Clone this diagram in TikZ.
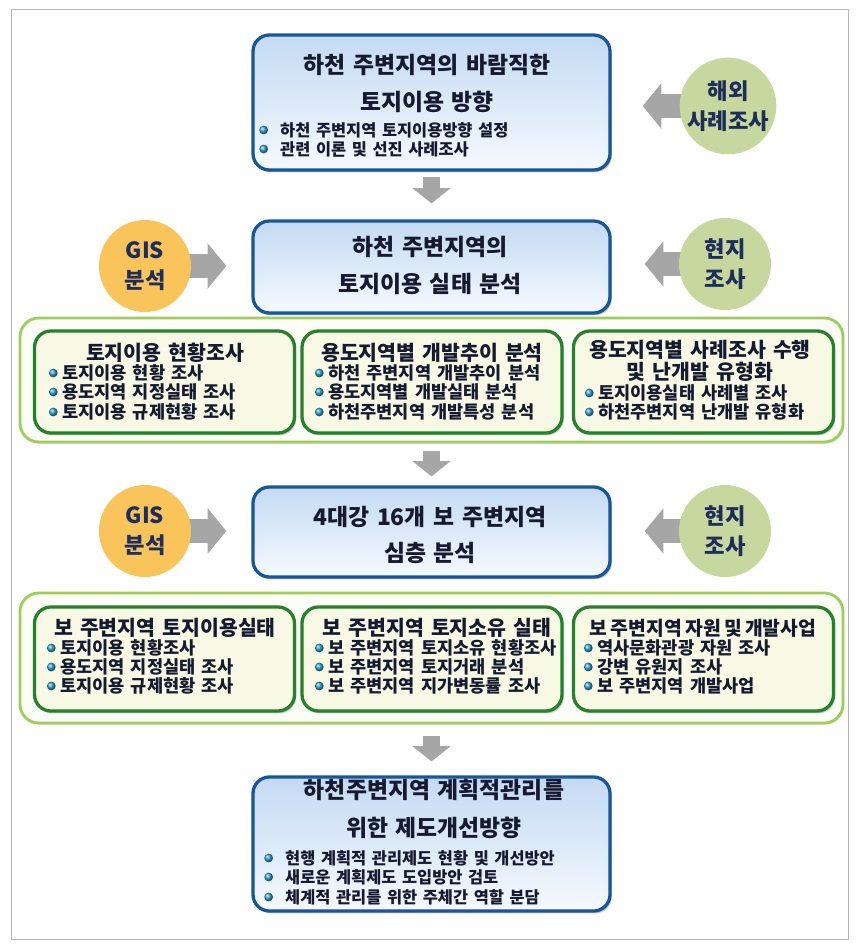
\documentclass[tikz,border=0pt]{standalone}
\usepackage{fontspec}
\setmainfont{Noto Sans CJK KR}[WordSpace=1.5]
\usetikzlibrary{positioning}
\usetikzlibrary{shadows}
\usetikzlibrary{arrows.meta}
\usetikzlibrary{backgrounds}

\definecolor{boxblue}{RGB}{22,86,155}
\definecolor{boxtop}{RGB}{196,218,243}
\definecolor{boxbot}{RGB}{245,249,254}
\definecolor{panelgreen}{RGB}{158,205,90}
\definecolor{panelfill}{RGB}{252,253,246}
\definecolor{taskgreen}{RGB}{38,130,42}
\definecolor{taskfill}{RGB}{247,249,228}
\definecolor{gisorange}{RGB}{249,196,90}
\definecolor{fieldgreen}{RGB}{199,216,158}
\definecolor{arrowgray}{RGB}{166,166,166}
\definecolor{textnavy}{RGB}{22,26,48}
\definecolor{circnavy}{RGB}{30,45,90}
\definecolor{bulletblue}{RGB}{45,160,205}
\definecolor{framegray}{RGB}{180,180,180}

\tikzset{
	stage/.style={draw=boxblue, line width=2.8pt, rounded corners=14pt, top color=boxtop, bottom color=boxbot, minimum width=10.71cm, inner sep=0pt, drop shadow={shadow xshift=1.5pt, shadow yshift=-2pt, opacity=0.45}},
	panel/.style={draw=panelgreen, line width=2.4pt, rounded corners=16pt, fill=panelfill, minimum width=24.69cm, inner sep=0pt, drop shadow={shadow xshift=1pt, shadow yshift=-1.5pt, opacity=0.25}},
	task/.style={draw=taskgreen, line width=2.8pt, rounded corners=14pt, fill=taskfill, minimum width=7.8cm, inner sep=0pt, drop shadow={shadow xshift=1.5pt, shadow yshift=-2pt, opacity=0.4}},
	source/.style={circle, minimum size=2.76cm, inner sep=0pt, align=center, text=circnavy, font=\fontsize{19}{26}\selectfont\bfseries},
	gis/.style={source, fill=gisorange},
	field/.style={source, fill=fieldgreen},
	headline/.style={text=textnavy, font=\fontsize{19.5}{23}\selectfont\bfseries},
	tasktitle/.style={text=textnavy, font=\fontsize{17.5}{20}\selectfont\bfseries},
	% small blue ball in front of each item
	bdot/.style={circle, ball color=bulletblue, minimum size=7.5pt, inner sep=0pt},
	point/.style={anchor=west, inner sep=0pt, text=textnavy, font=\fontsize{14}{16}\selectfont\bfseries, label={[bdot, label distance=10pt]left:{}}},
	subpoint/.style={anchor=west, inner sep=0pt, text=textnavy, font=\fontsize{15}{17}\selectfont\bfseries, label={[bdot, label distance=3.5pt]left:{}}},
	flow/.style={draw=arrowgray, line width=15pt, -{Triangle[length=13pt, width=32pt]}},
	side/.style={draw=arrowgray, line width=20pt, -{Triangle[length=16pt, width=38pt]}},
}

\begin{document}
\begin{tikzpicture}[x=0.03cm, y=-0.03cm]
	\useasboundingbox (0,0) rectangle (861,951);
	\draw[framegray, line width=0.8pt] (11,9) rectangle (848,939);
	
	\node (aim) [stage, minimum height=4.05cm] at (431.5,102.5) {};
	\node (status) [stage, minimum height=2.76cm] at (431.5,267) {};
	\node (survey1) [panel, minimum height=3.72cm] at (431.5,380) {};
	\node (weir) [stage, minimum height=2.7cm] at (431.5,532) {};
	\node (survey2) [panel, minimum height=3.9cm] at (431.5,658) {};
	\node (policy) [stage, minimum height=4.02cm] at (431.5,844) {};
	
	\node (landuse) [task, minimum height=3.06cm] at (164.5,382) {};
	\node (trend) [task, minimum height=3.06cm] at (432,382) {};
	\node (cases) [task, minimum height=3.06cm] at (703.5,382) {};
	\node (weiruse) [task, minimum height=3.12cm] at (164.5,659) {};
	\node (owner) [task, minimum height=3.12cm] at (432,659) {};
	\node (resource) [task, minimum height=3.12cm] at (703.5,659) {};
	
	\node (abroad) [field] at (728,106) {해외\\사례조사};
	\node (gis1) [gis] at (145,266) {GIS\\분석};
	\node (local1) [field] at (725,264) {현지\\조사};
	\node (gis2) [gis] at (145,531) {GIS\\분석};
	\node (local2) [field] at (725,531) {현지\\조사};
	
	\node (aimt1) [headline] at (427,65) {하천 주변지역의 바람직한};
	\node (aimt2) [headline] at (427,102) {토지이용 방향};
	\node (aimp1) [point] at (280,130) {하천 주변지역 토지이용방향 설정};
	\node (aimp2) [point] at (280,149) {관련 이론 및 선진 사례조사};
	
	\node (statust1) [headline] at (430,247) {하천 주변지역의};
	\node (statust2) [headline] at (430,284) {토지이용 실태 분석};
	
	\node (landuset) [tasktitle] at (165,353) {토지이용 현황조사};
	\node (landusep1) [subpoint] at (62,373) {토지이용 현황 조사};
	\node (landusep2) [subpoint] at (62,392) {용도지역 지정실태 조사};
	\node (landusep3) [subpoint] at (62,412) {토지이용 규제현황 조사};
	
	\node (trendt) [tasktitle] at (432,353) {용도지역별 개발추이 분석};
	\node (trendp1) [subpoint] at (328,373) {하천 주변지역 개발추이 분석};
	\node (trendp2) [subpoint] at (328,392) {용도지역별 개발실태 분석};
	\node (trendp3) [subpoint] at (328,412) {하천주변지역 개발특성 분석};
	
	\node (casest1) [tasktitle] at (700,350) {용도지역별 사례조사 수행};
	\node (casest2) [tasktitle] at (700,372) {및 난개발 유형화};
	\node (casesp1) [subpoint] at (598,393) {토지이용실태 사례별 조사};
	\node (casesp2) [subpoint] at (598,412) {하천주변지역 난개발 유형화};
	
	\node (weirt1) [headline] at (430,517) {4대강 16개 보 주변지역};
	\node (weirt2) [headline] at (430,553) {심층 분석};
	
	\node (weiruset) [tasktitle] at (165,628) {보 주변지역 토지이용실태};
	\node (weirusep1) [subpoint] at (60,648) {토지이용 현황조사};
	\node (weirusep2) [subpoint] at (60,667) {용도지역 지정실태 조사};
	\node (weirusep3) [subpoint] at (60,686) {토지이용 규제현황 조사};
	
	\node (ownert) [tasktitle] at (437,628) {보 주변지역 토지소유 실태};
	\node (ownerp1) [subpoint] at (328,648) {보 주변지역 토지소유 현황조사};
	\node (ownerp2) [subpoint] at (328,667) {보 주변지역 토지거래 분석};
	\node (ownerp3) [subpoint] at (328,686) {보 주변지역 지가변동률 조사};
	
	\node (resourcet) [tasktitle, font=\fontsize{16.5}{20}\selectfont\bfseries] at (703,628) {보\,주변지역\,자원\,및\,개발사업};
	\node (resourcep1) [subpoint] at (597,648) {역사문화관광 자원 조사};
	\node (resourcep2) [subpoint] at (597,667) {강변 유원지 조사};
	\node (resourcep3) [subpoint] at (597,686) {보 주변지역 개발사업};
	
	\node (policyt1) [headline] at (434,790) {하천주변지역 계획적관리를};
	\node (policyt2) [headline] at (434,828) {위한 제도개선방향};
	\node (policyp1) [point] at (285,858) {현행 계획적 관리제도 현황 및 개선방안};
	\node (policyp2) [point] at (285,877) {새로운 계획제도 도입방안 검토};
	\node (policyp3) [point] at (285,897) {체계적 관리를 위한 주체간 역할 분담};
	
	\begin{scope}[on background layer]
		\draw[flow, shorten <=0.15cm, shorten >=0.48cm] (aim) -- (status);
		\draw[flow, shorten <=0.24cm, shorten >=0.27cm] (survey1) -- (weir);
		\draw[flow, shorten <=0.36cm, shorten >=0.42cm] (survey2) -- (policy);
		\draw[side, shorten <=-6pt, shorten >=0.93cm] (abroad) -- (abroad -| aim.east);
		\draw[side, shorten <=-6pt, shorten >=0.75cm] (gis1) -- (gis1 -| status.west);
		\draw[side, shorten <=-6pt, shorten >=0.99cm] (local1) -- (local1 -| status.east);
		\draw[side, shorten <=-6pt, shorten >=0.75cm] (gis2) -- (gis2 -| weir.west);
		\draw[side, shorten <=-6pt, shorten >=0.99cm] (local2) -- (local2 -| weir.east);
	\end{scope}
\end{tikzpicture}
\end{document}
